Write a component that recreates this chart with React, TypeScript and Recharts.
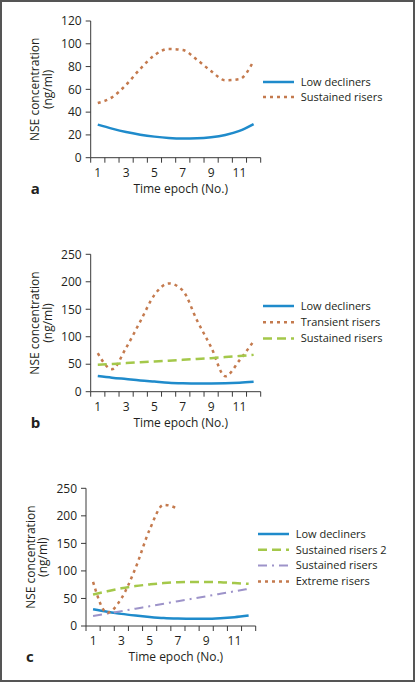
import { LineChart, Line, XAxis, YAxis, Legend, Label } from "recharts";

const EPOCHS = [1, 2, 3, 4, 5, 6, 7, 8, 9, 10, 11, 12];
const EPOCH_LABELS = [1, 3, 5, 7, 9, 11];

// panel a
const A_LOW_DECLINERS = [29, 25.5, 22.5, 20.2, 18.5, 17.3, 16.8, 17, 18, 20, 23.5, 29.5];
const A_SUSTAINED_RISERS = [48, 53, 64, 78, 90, 95.5, 94.5, 86, 76, 68, 69, 85];
const A_TICKS = [0, 20, 40, 60, 80, 100, 120];

// panel b
const B_LOW_DECLINERS = [28.5, 25.5, 23, 20.5, 18.5, 16.5, 15.5, 15, 15, 15.3, 16.3, 18];
const B_TRANSIENT_RISERS = [70, 41, 80, 128, 176, 197, 184, 130, 81, 28, 57, 92];
const B_SUSTAINED_RISERS = [49, 50.5, 52, 53.5, 55, 56.5, 58, 59.5, 61, 63, 65, 67];

// panel c
const C_LOW_DECLINERS = [30.5, 26, 22, 19, 16.5, 14.5, 13.5, 13, 13, 14, 16, 19];
const C_SUSTAINED_RISERS_2 = [57, 63, 68.5, 72.5, 75.5, 78, 79.5, 80, 80, 79.5, 78, 76.5];
const C_SUSTAINED_RISERS = [18, 22.5, 27, 31.5, 36, 40.5, 45, 49.5, 54, 58.5, 63, 67.5];
const C_EXTREME_RISERS = [80, 24, 50, 105, 175, 220, 213];
const BC_TICKS = [0, 50, 100, 150, 200, 250];

const BLUE = "#1f8bcb";
const BROWN = "#c47a4e";
const GREEN = "#a4c84a";
const PURPLE = "#9d93c9";
const AXIS = "#3a3a3a";
const TEXT = "#231f20";

type Series = {
  key: string;
  name: string;
  values: number[];
  color: string;
  dash?: string;
  width: number;
};

const buildRows = (series: Series[]) =>
  EPOCHS.map((epoch, i) => {
    const row: Record<string, number | null> = { epoch };
    series.forEach((s) => {
      row[s.key] = i < s.values.length ? s.values[i] : null;
    });
    return row;
  });

// tick marks sit on the category boundaries, labels in the middle
const X_TICKS = [0.5, ...EPOCHS.map((e) => e + 0.5), ...EPOCH_LABELS].sort((a, b) => a - b);

const EpochTick = (props: any) => {
  const { x, y, payload } = props;
  const v = payload.value;
  if (!Number.isInteger(v)) {
    return <line x1={x} x2={x} y1={y} y2={y + 5} stroke={AXIS} strokeWidth={1} />;
  }
  return (
    <text x={x} y={y + 15} dy="0.35em" textAnchor="middle" fontSize={12} fill={TEXT}>
      {v}
    </text>
  );
};

const YTitle = ({ viewBox }: any) => {
  const { x, y, width, height } = viewBox;
  const ax = x + width;
  const cy = y + height / 2;
  return (
    <g fill={TEXT} fontSize={12}>
      <text transform={`translate(${ax - 56},${cy}) rotate(-90)`} textAnchor="middle" dominantBaseline="central">
        NSE concentration
      </text>
      <text transform={`translate(${ax - 43.5},${cy}) rotate(-90)`} textAnchor="middle" dominantBaseline="central">
        (ng/ml)
      </text>
    </g>
  );
};

const XTitle = ({ viewBox, letter }: any) => {
  const { x, y, width } = viewBox;
  return (
    <g fill={TEXT}>
      <text x={x + width / 2 + 5} y={y + 31} dy="0.35em" textAnchor="middle" fontSize={12}>
        Time epoch (No.)
      </text>
      <text x={x - 60} y={y + 31} dy="0.35em" fontSize={15} fontWeight="bold">
        {letter}
      </text>
    </g>
  );
};

const LegendBox = ({ payload, series, gap }: any) => {
  const items = series
    .map((s: Series) => ({ s, entry: (payload || []).find((p: any) => p.dataKey === s.key) }))
    .filter((it: any) => it.entry);
  return (
    <svg width={150} height={16 + gap * (items.length - 1)}>
      {items.map(({ s, entry }: any, i: number) => {
        const y = 8 + i * gap;
        return (
          <g key={s.key}>
            <line x1={0} x2={31} y1={y} y2={y} stroke={entry.color} strokeWidth={s.width} strokeDasharray={s.dash} />
            <text x={37.7} y={y} dy="0.35em" fontSize={11} fill={TEXT}>
              {entry.value}
            </text>
          </g>
        );
      })}
    </svg>
  );
};

type PanelProps = {
  series: Series[];
  top: number;
  height: number;
  margin: { top: number; right: number; bottom: number; left: number };
  yTicks: number[];
  letter: string;
  legendLeft: number;
  legendTop: number;
  gap: number;
};

const Panel = ({ series, top, height, margin, yTicks, letter, legendLeft, legendTop, gap }: PanelProps) => (
  <div style={{ position: "absolute", left: 0, top }}>
    <LineChart width={415} height={height} data={buildRows(series)} margin={margin}>
      <XAxis
        dataKey="epoch"
        type="number"
        domain={[0.5, 12.5]}
        ticks={X_TICKS}
        interval={0}
        height={45}
        tickSize={0}
        tickMargin={0}
        tickLine={false}
        axisLine={{ stroke: AXIS }}
        tick={<EpochTick />}
      >
        <Label content={<XTitle letter={letter} />} />
      </XAxis>
      <YAxis
        domain={[0, yTicks[yTicks.length - 1]]}
        ticks={yTicks}
        interval={0}
        width={50}
        tickSize={5}
        tickMargin={4}
        axisLine={{ stroke: AXIS }}
        tickLine={{ stroke: AXIS }}
        tick={{ fontSize: 12, fill: TEXT }}
      >
        <Label content={<YTitle />} />
      </YAxis>
      <Legend
        layout="vertical"
        align="center"
        verticalAlign="middle"
        wrapperStyle={{ left: legendLeft, top: legendTop, width: 150 }}
        content={<LegendBox series={series} gap={gap} />}
      />
      {series.map((s) => (
        <Line
          key={s.key}
          dataKey={s.key}
          name={s.name}
          type="monotone"
          stroke={s.color}
          strokeWidth={s.width}
          strokeDasharray={s.dash}
          dot={false}
          activeDot={false}
          isAnimationActive={false}
        />
      ))}
    </LineChart>
  </div>
);

const SERIES_A: Series[] = [
  { key: "low", name: "Low decliners", values: A_LOW_DECLINERS, color: BLUE, width: 2.5 },
  { key: "sustained", name: "Sustained risers", values: A_SUSTAINED_RISERS, color: BROWN, dash: "3 4", width: 2.5 },
];

const SERIES_B: Series[] = [
  { key: "low", name: "Low decliners", values: B_LOW_DECLINERS, color: BLUE, width: 2.5 },
  { key: "transient", name: "Transient risers", values: B_TRANSIENT_RISERS, color: BROWN, dash: "3 4", width: 2.5 },
  { key: "sustained", name: "Sustained risers", values: B_SUSTAINED_RISERS, color: GREEN, dash: "9 5", width: 2.5 },
];

const SERIES_C: Series[] = [
  { key: "low", name: "Low decliners", values: C_LOW_DECLINERS, color: BLUE, width: 2.5 },
  { key: "sustained2", name: "Sustained risers 2", values: C_SUSTAINED_RISERS_2, color: GREEN, dash: "9 5", width: 2.5 },
  { key: "sustained", name: "Sustained risers", values: C_SUSTAINED_RISERS, color: PURPLE, dash: "9 5 2 5", width: 2 },
  { key: "extreme", name: "Extreme risers", values: C_EXTREME_RISERS, color: BROWN, dash: "3 4", width: 2.5 },
];

export default function App() {
  return (
    <div style={{ position: "relative", width: 415, height: 682, fontFamily: "'Open Sans', sans-serif", background: "#fff" }}>
      <style>{`body{margin:0}`}</style>
      <Panel
        series={SERIES_A}
        top={0}
        height={210}
        margin={{ top: 21, right: 154.3, bottom: 7.3, left: 40.7 }}
        yTicks={A_TICKS}
        letter="a"
        legendLeft={263.3}
        legendTop={74.3}
        gap={15}
      />
      <Panel
        series={SERIES_B}
        top={210}
        height={230}
        margin={{ top: 44.3, right: 154.3, bottom: 3.3, left: 40.7 }}
        yTicks={BC_TICKS}
        letter="b"
        legendLeft={263.3}
        legendTop={87.7}
        gap={16.3}
      />
      <Panel
        series={SERIES_C}
        top={440}
        height={242}
        margin={{ top: 48.3, right: 159.3, bottom: 11, left: 36 }}
        yTicks={BC_TICKS}
        letter="c"
        legendLeft={258.3}
        legendTop={86.3}
        gap={15.8}
      />
      <div
        style={{
          position: "absolute",
          left: 0,
          top: 0,
          width: 415,
          height: 682,
          boxSizing: "border-box",
          border: "2px solid #555",
          pointerEvents: "none",
        }}
      />
    </div>
  );
}
